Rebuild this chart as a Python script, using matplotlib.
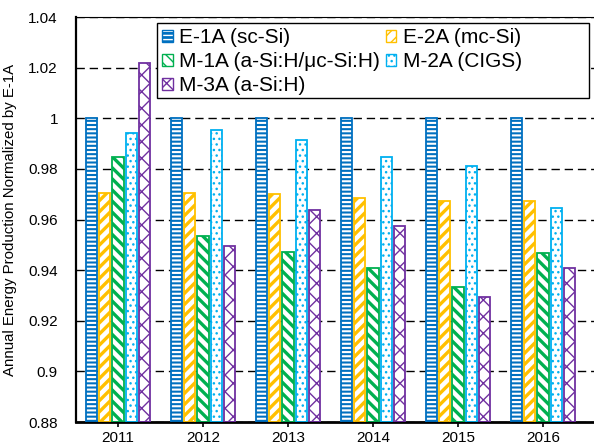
import matplotlib
matplotlib.use("Agg")
import matplotlib.pyplot as plt
import numpy as np
from matplotlib.patches import Patch, Rectangle
from matplotlib.legend_handler import HandlerTuple

plt.rcParams['font.family'] = ['Liberation Sans', 'DejaVu Sans']

years = ['2011', '2012', '2013', '2014', '2015', '2016']
series_names = ['E-1A (sc-Si)', 'E-2A (mc-Si)', 'M-1A (a-Si:H/\u03bcc-Si:H)', 'M-2A (CIGS)', 'M-3A (a-Si:H)']
e1a = [1.0, 1.0, 1.0, 1.0, 1.0, 1.0]
e2a = [0.9706, 0.9706, 0.9699, 0.9683, 0.9674, 0.9675]
m1a = [0.9848, 0.9536, 0.9470, 0.9409, 0.9333, 0.9469]
m2a = [0.9941, 0.9953, 0.9914, 0.9845, 0.9812, 0.9644]
m3a = [1.0218, 0.9496, 0.9637, 0.9575, 0.9292, 0.9408]
yticks = [0.88, 0.9, 0.92, 0.94, 0.96, 0.98, 1.0, 1.02, 1.04]
ytick_labels = ['0.88', '0.9', '0.92', '0.94', '0.96', '0.98', '1', '1.02', '1.04']

values = [e1a, e2a, m1a, m2a, m3a]
colors = ['#0070C0', '#FFC000', '#00B050', '#00B0F0', '#7030A0']
# (facecolor, hatch color, hatch, hatch linewidth)
styles = [
    ('#0070C0', 'white', '----', 1.5),
    ('white', '#FFC000', '///', 2.4),
    ('white', '#00B050', '\\\\\\', 2.4),
    ('white', '#00B0F0', '...', 1.0),
    ('white', '#7030A0', 'xx', 1.0),
]


def apply_hlw(artist, hlw):
    if hasattr(artist, 'set_hatch_linewidth'):
        artist.set_hatch_linewidth(hlw)
    orig = artist.draw

    def draw(renderer, _orig=orig, _hlw=hlw):
        with plt.rc_context({'hatch.linewidth': _hlw}):
            _orig(renderer)
    artist.draw = draw


fig = plt.figure(figsize=(5.94, 4.48), dpi=100)
ax = fig.add_axes([76/594, 26/448, 518/594, 405/448])

x = np.arange(len(years))
step = 0.157
width = 0.135
handles = []
for i, (vals, col, (fc, hc, h, hlw)) in enumerate(zip(values, colors, styles)):
    off = (i - 2) * step
    heights = [v - 0.88 for v in vals]
    with plt.rc_context({'hatch.linewidth': hlw}):
        bars = ax.bar(x + off, heights, width, bottom=0.88,
                      facecolor=fc, edgecolor=hc, hatch=h, linewidth=0, zorder=2)
        for b in bars:
            apply_hlw(b, hlw)
        ax.bar(x + off, heights, width, bottom=0.88,
               fill=False, edgecolor=col, linewidth=1.3, zorder=3)
        hp = Patch(facecolor=fc, edgecolor=hc, hatch=h, linewidth=0)
        apply_hlw(hp, hlw)
        ho = Patch(fill=False, edgecolor=col, linewidth=1.0)
    handles.append((hp, ho))

ax.set_ylim(0.88, 1.04)
ax.set_xlim(-0.494, 5.6)
ax.set_yticks(yticks)
ax.set_yticklabels(ytick_labels)
ax.set_xticks(x)
ax.set_xticklabels(years)
ax.tick_params(axis='y', length=0, labelsize=11, pad=13)
ax.tick_params(axis='x', length=3.5, width=1.2, direction='out', labelsize=11, pad=3)
ax.yaxis.grid(True, linestyle=(0, (6, 3.5)), color='black', linewidth=1.0)
ax.set_axisbelow(True)
ax.spines['right'].set_visible(False)
ax.spines['top'].set_linewidth(0.8)
ax.spines['left'].set_linewidth(1.6)
ax.spines['bottom'].set_linewidth(2.0)
ax.set_ylabel('Annual Energy Production Normalized by E-1A', fontsize=10.8, labelpad=8)

# legend frame (in axes coords)
frame = Rectangle((0.1564, 0.800), 0.9903 - 0.1564, 0.985 - 0.800, transform=ax.transAxes,
                  facecolor='white', edgecolor='black', linewidth=1.0, zorder=5)
ax.add_patch(frame)

order = [0, 2, 4, 1, 3]
leg = ax.legend([handles[k] for k in order], [series_names[k] for k in order],
                handler_map={tuple: HandlerTuple(ndivide=1, pad=0)},
                ncol=2, loc='upper left', bbox_to_anchor=(0.1564, 0.985),
                fontsize=15, frameon=False,
                handlelength=0.5, handleheight=0.5, handletextpad=0.3,
                columnspacing=0.3, borderpad=0.25, labelspacing=0.24, borderaxespad=0)
leg.set_zorder(6)

fig.savefig('out.png', dpi=100)
